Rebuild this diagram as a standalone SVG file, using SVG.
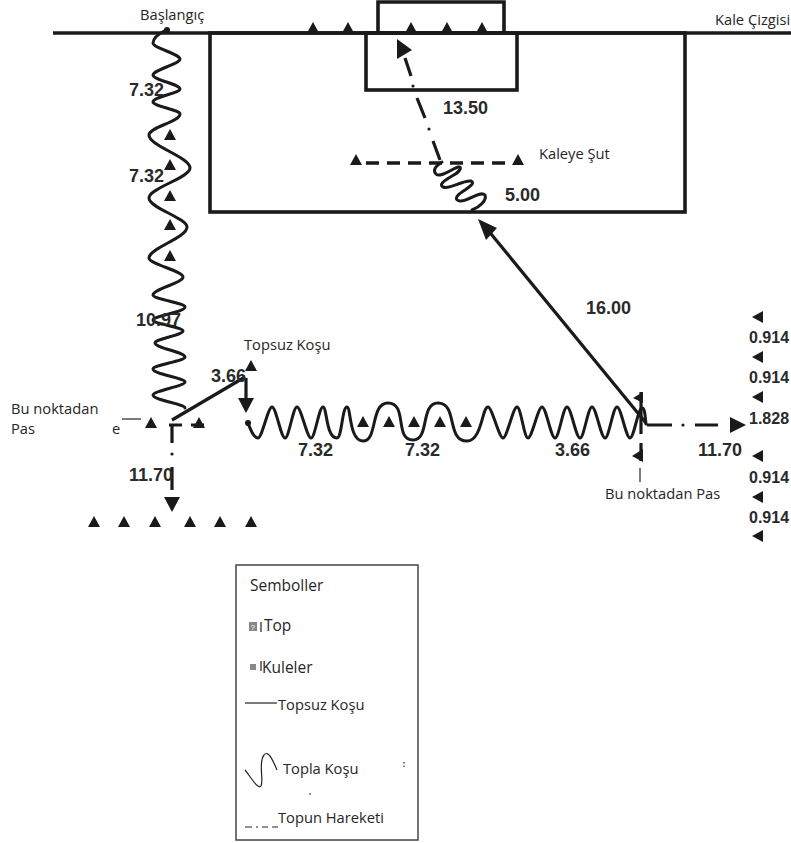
<svg xmlns="http://www.w3.org/2000/svg" xmlns:xlink="http://www.w3.org/1999/xlink" width="791" height="843" viewBox="0 0 791 843">
<style>
.f{fill:none;stroke:#1a1a1a;stroke-width:3.6}
.w{fill:none;stroke:#1a1a1a;stroke-width:3;stroke-linejoin:round;stroke-linecap:round}
.l{fill:none;stroke:#1a1a1a;stroke-width:3.2}
.d{fill:none;stroke:#1a1a1a;stroke-width:3.6}
.h{fill:#1a1a1a}
.t{fill:#1a1a1a}
.n{font-family:"Liberation Sans",Arial,sans-serif;font-weight:bold;font-size:18px;fill:#2a2a2a}
.s{font-family:"Liberation Sans",Arial,sans-serif;font-weight:bold;font-size:16px;fill:#2a2a2a}
.c{font-family:"Open Sans",sans-serif;font-size:14.700px;fill:#262626}
.b{font-size:15.500px}
.m{fill:none;stroke:#222;stroke-width:1.2}
</style>
<defs>
<polygon id="up" points="0,-6 6,5 -6,5"/>
<polygon id="lf" points="-6,0 5,-6 5,6"/>
</defs>
<rect width="791" height="843" fill="#fff"/>
<g id="pitch">
<path class="f" d="M53 33H791"/>
<rect class="f" x="210" y="33" width="475" height="179"/>
<rect class="f" x="366" y="33" width="151" height="57"/>
<path class="f" stroke-width="3" d="M378 33V2H504V33"/>
</g>
<g id="connectors">
<circle class="h" cx="167" cy="30" r="3"/>
<path id="run-vertical" class="w" d="M166 30C160 33 153 37 153 43C153 48 180 54 180 59C180 64 153 70 153 75C153 80 180 84 180 89C180 93 153 97 153 102C153 106 180 110 180 114C180 122 149 127 149 135C149 146 190 157 190 168C190 178 149 188 149 198C149 208 187 218 187 227C187 238 149 248 149 258C149 264 183 271 183 277C183 283 153 289 153 295C153 299 185 303 185 307C185 312 153 316 153 320C153 324 183 327 183 331C183 335 155 339 155 343C155 348 185 352 185 357C185 361 153 365 153 369C153 374 185 378 185 382C185 386 153 391 153 395C153 400 185 404 185 408"/>
<path id="run-free" class="l" d="M172 420L245 377"/>
<path class="l" d="M246 378V400"/>
<polygon class="h" points="238,398 254,398 246,413"/>
<circle class="h" cx="248" cy="423" r="3"/>
<path id="run-horizontal" class="w" d="M248 423C251 431 254 438 258 438C262 438 268 407 272 407C276 407 281 438 285 438C289 438 293 407 297 407C301 407 307 438 311 438C315 438 319 407 323 407C327 407 326 438 337 438C342 438 342 407 347 407C351 407 349 441 363 441C378 441 370 403 388 403C408 403 394 440 413 440C430 440 420 403 438 403C458 403 446 441 467 441C482 441 482 407 488 407C492 407 499 438 503 438C507 438 513 407 517 407C521 407 524 438 528 438C532 438 538 407 542 407C546 407 551 438 555 438C559 438 563 407 567 407C571 407 576 438 580 438C584 438 588 407 592 407C596 407 601 438 605 438C609 438 613 407 617 407C621 407 626 438 630 438C634 438 638 408 642 408C645 408 645 416 646 424"/>
<path class="l" d="M646 423L487 229"/>
<polygon class="h" points="478,219 497,228 486,240"/>
<path class="w" d="M442 162C436 166 432 170 436 174C440 178 450 170 458 167C463 166 460 172 452 176C446 180 438 184 443 187C450 190 462 180 471 181C476 183 468 188 462 192C456 196 454 200 460 201C468 202 480 190 485 195C487 200 480 207 472 210"/>
<path class="l" d="M440 160L433 141M425 118L417 98M411 76L405 58"/>
<circle class="h" cx="429" cy="129" r="1.6"/>
<circle class="h" cx="413" cy="86" r="1.6"/>
<polygon class="h" points="397,39 412,50 397,59"/>
<path class="d" stroke-dasharray="13 8" d="M366 163H512"/>
<path class="l" d="M169 425H182M191 425H204M172 425V443M172 467V490"/>
<circle class="h" cx="172" cy="454" r="1.6"/>
<polygon class="h" points="164,497 180,497 172,512"/>
<path class="m" d="M122 419H141"/>
<path class="l" stroke-width="3.600" d="M647 425H672M695 425H718M641 392V434M641 443V461"/>
<path class="m" d="M640 468V482"/>
<circle class="h" cx="683" cy="425" r="1.6"/>
<polygon class="h" points="746,425 730,417 730,433"/>
<polygon class="h" points="633,398 643,392 643,403"/>
<polygon class="h" points="632,456 643,449 643,462"/>
</g>
<g id="markers" class="t">
<use href="#up" x="313" y="28"/><use href="#up" x="348" y="28"/><use href="#up" x="411" y="28"/><use href="#up" x="447" y="28"/><use href="#up" x="482" y="28"/>
<use href="#up" x="356" y="160"/><use href="#up" x="518" y="160"/>
<use href="#up" x="170" y="135"/><use href="#up" x="170" y="165"/><use href="#up" x="170" y="196"/><use href="#up" x="170" y="225"/><use href="#up" x="170" y="256"/>
<use href="#up" x="151" y="423"/><use href="#up" x="199" y="423"/><use href="#up" x="251" y="366"/>
<use href="#up" x="94" y="522"/><use href="#up" x="124" y="522"/><use href="#up" x="155" y="522"/><use href="#up" x="190" y="522"/><use href="#up" x="220" y="522"/><use href="#up" x="251" y="522"/>
<use href="#up" x="363" y="422"/><use href="#up" x="389" y="422"/><use href="#up" x="414" y="422"/><use href="#up" x="440" y="422"/><use href="#up" x="466" y="422"/>
<use href="#lf" x="758" y="317"/><use href="#lf" x="758" y="357"/><use href="#lf" x="758" y="397"/><use href="#lf" x="758" y="456"/><use href="#lf" x="758" y="497"/><use href="#lf" x="758" y="536"/>
</g>
<g id="labels">
<text class="c" x="140" y="20">Başlangıç</text>
<text class="c" x="715" y="25">Kale Çizgisi</text>
<text class="c" x="539" y="159">Kaleye Şut</text>
<text class="c" x="244" y="350">Topsuz Koşu</text>
<text class="c" x="11" y="414">Bu noktadan</text>
<text class="c" x="11" y="434">Pas</text>
<text class="c" x="112" y="434">e</text>
<text class="c" x="605" y="499">Bu noktadan Pas</text>
<text class="n" x="129" y="96">7.32</text>
<text class="n" x="129" y="182">7.32</text>
<text class="n" x="136" y="326">10.97</text>
<text class="n" x="211" y="382">3.66</text>
<text class="n" x="129" y="481">11.70</text>
<text class="n" x="298" y="456">7.32</text>
<text class="n" x="405" y="456">7.32</text>
<text class="n" x="555" y="456">3.66</text>
<text class="n" x="698" y="456">11.70</text>
<text class="n" x="443" y="114">13.50</text>
<text class="n" x="505" y="201">5.00</text>
<text class="n" x="586" y="314">16.00</text>
<text class="s" x="749" y="343">0.914</text>
<text class="s" x="749" y="383">0.914</text>
<text class="s" x="749" y="424">1.828</text>
<text class="s" x="749" y="483">0.914</text>
<text class="s" x="749" y="523">0.914</text>
</g>
<g id="legend">
<rect x="236" y="565" width="182" height="275" fill="#fff" stroke="#444" stroke-width="1.5"/>
<text class="c b" x="250" y="591">Semboller</text>
<rect x="249" y="622" width="8" height="9" fill="#888"/>
<text x="250.500" y="630" font-family="Liberation Sans,sans-serif" font-size="8" fill="#fff">?</text>
<path class="m" stroke-width="1" d="M261 622V632"/>
<text class="c b" x="264" y="631">Top</text>
<rect x="250" y="664" width="6" height="6" fill="#888"/>
<path class="m" stroke-width="1" d="M261 661V671"/>
<text class="c b" x="262" y="673">Kuleler</text>
<path class="m" d="M245 703H277"/>
<text class="c" x="278" y="710">Topsuz Koşu</text>
<path class="m" stroke-width="1.400" d="M245 770C250 776 258 790 261 786C264 780 258 762 264 755C268 750 272 758 277 770"/>
<text class="c" x="283" y="774">Topla Koşu</text>
<path class="m" stroke-dasharray="1.500 2" d="M404 762V769"/>
<path class="m" stroke="#bbb" d="M309 794H311"/>
<path class="m" d="M245 827H252M256 827H258M262 827H268M272 827H278"/>
<text class="c" x="278" y="823">Topun Hareketi</text>
</g>
</svg>
